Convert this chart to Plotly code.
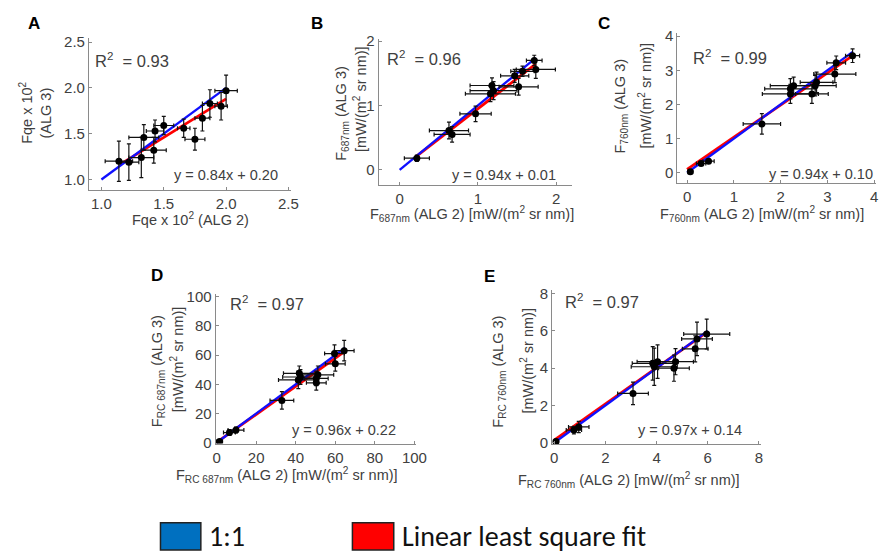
import plotly.graph_objects as go

W, H = 890, 560

# ---------------- data ----------------
A_x = [1.14, 1.22, 1.32, 1.34, 1.42, 1.43, 1.50, 1.66, 1.75, 1.81, 1.87, 1.96, 2.00]
A_y = [1.20, 1.19, 1.24, 1.46, 1.32, 1.53, 1.59, 1.56, 1.44, 1.67, 1.83, 1.80, 1.97]
A_ex = [0.11, 0.08, 0.10, 0.12, 0.10, 0.07, 0.08, 0.05, 0.08, 0.06, 0.06, 0.05, 0.09]
A_ey = [0.22, 0.20, 0.22, 0.14, 0.14, 0.12, 0.10, 0.10, 0.12, 0.14, 0.15, 0.15, 0.17]

B_x = [0.22, 0.63, 0.67, 0.97, 1.16, 1.18, 1.20, 1.47, 1.52, 1.57, 1.72, 1.74]
B_y = [0.18, 0.61, 0.55, 0.87, 1.18, 1.31, 1.23, 1.46, 1.29, 1.53, 1.70, 1.56]
B_ex = [0.16, 0.25, 0.23, 0.20, 0.32, 0.28, 0.30, 0.18, 0.25, 0.15, 0.10, 0.25]
B_ey = [0.05, 0.13, 0.12, 0.12, 0.12, 0.12, 0.14, 0.10, 0.13, 0.08, 0.08, 0.14]

C_x = [0.07, 0.30, 0.46, 1.60, 2.21, 2.28, 2.21, 2.67, 2.74, 2.77, 3.16, 3.19, 3.54]
C_y = [0.03, 0.27, 0.34, 1.43, 2.46, 2.55, 2.31, 2.31, 2.55, 2.65, 2.89, 3.22, 3.43]
C_ex = [0.05, 0.10, 0.12, 0.40, 0.55, 0.50, 0.60, 0.35, 0.45, 0.35, 0.45, 0.20, 0.15]
C_ey = [0.03, 0.05, 0.06, 0.30, 0.30, 0.25, 0.28, 0.28, 0.30, 0.30, 0.25, 0.20, 0.20]

D_x = [1.5, 6.5, 9.8, 33.0, 41.3, 42.4, 41.8, 50.4, 51.2, 50.4, 60.0, 59.6, 64.5]
D_y = [0.9, 7.0, 8.7, 29.0, 43.0, 45.0, 47.5, 44.0, 46.5, 41.0, 54.0, 61.0, 63.0]
D_ex = [1.5, 3.0, 4.0, 6.0, 10.0, 9.0, 8.0, 6.0, 8.0, 5.0, 5.0, 5.0, 5.0]
D_ey = [1.0, 2.0, 2.0, 6.0, 6.0, 5.0, 5.0, 5.0, 6.0, 5.0, 5.0, 6.0, 7.0]

E_x = [0.07, 0.77, 0.96, 3.08, 3.85, 3.91, 4.04, 4.68, 4.74, 5.51, 5.58, 5.96]
E_y = [0.07, 0.68, 0.85, 2.65, 4.26, 4.08, 4.35, 4.00, 4.35, 5.04, 5.57, 5.83]
E_ex = [0.10, 0.30, 0.40, 0.60, 0.80, 0.90, 0.80, 0.60, 0.70, 0.50, 0.60, 0.90]
E_ey = [0.10, 0.20, 0.30, 0.60, 0.90, 1.00, 0.90, 0.70, 0.70, 0.70, 0.90, 0.80]

# 1:1 line extents and fit parameters
one_x = {"A": [1.0, 2.0], "B": [0.0, 1.74], "C": [0.0, 3.55], "D": [0.0, 65.0], "E": [0.0, 6.0]}
fit_x = {"A": [1.15, 2.0], "B": [0.2, 1.74], "C": [0.0, 3.55], "D": [0.0, 65.0], "E": [0.0, 6.0]}
slope = {"A": 0.84, "B": 0.94, "C": 0.94, "D": 0.96, "E": 0.97}
intercept = {"A": 0.20, "B": 0.01, "C": 0.10, "D": 0.22, "E": 0.14}
r2 = {"A": "0.93", "B": "0.96", "C": "0.99", "D": "0.97", "E": "0.97"}

x_ticks = {"A": [1.0, 1.5, 2.0, 2.5], "B": [0, 1, 2], "C": [0, 1, 2, 3, 4],
           "D": [0, 20, 40, 60, 80, 100], "E": [0, 2, 4, 6, 8]}
x_ticktext = {"A": ["1.0", "1.5", "2.0", "2.5"], "B": ["0", "1", "2"], "C": ["0", "1", "2", "3", "4"],
              "D": ["0", "20", "40", "60", "80", "100"], "E": ["0", "2", "4", "6", "8"]}
y_ticks = {"A": [1.0, 1.5, 2.0, 2.5], "B": [0, 1, 2], "C": [0, 1, 2, 3, 4],
           "D": [0, 20, 40, 60, 80, 100], "E": [0, 2, 4, 6, 8]}
y_ticktext = {"A": ["1.0", "1.5", "2.0", "2.5"], "B": ["0", "1", "2"], "C": ["0", "1", "2", "3", "4"],
              "D": ["0", "20", "40", "60", "80", "100"], "E": ["0", "2", "4", "6", "8"]}

xt = {"A": "Fqe x 10<sup>2</sup> (ALG 2)",
      "B": "F<sub>687nm</sub> (ALG 2) [mW/(m<sup>2</sup> sr nm)]",
      "C": "F<sub>760nm</sub> (ALG 2) [mW/(m<sup>2</sup> sr nm)]",
      "D": "F<sub>RC 687nm</sub> (ALG 2) [mW/(m<sup>2</sup> sr nm)]",
      "E": "F<sub>RC 760nm</sub> (ALG 2) [mW/(m<sup>2</sup> sr nm)]"}
yt1 = {"A": "Fqe x 10<sup>2</sup>", "B": "F<sub>687nm</sub> (ALG 3)", "C": "F<sub>760nm</sub> (ALG 3)",
       "D": "F<sub>RC 687nm</sub> (ALG 3)", "E": "F<sub>RC 760nm</sub> (ALG 3)"}
yt2 = {"A": "(ALG 3)", "B": "[mW/(m<sup>2</sup> sr nm)]", "C": "[mW/(m<sup>2</sup> sr nm)]",
       "D": "[mW/(m<sup>2</sup> sr nm)]", "E": "[mW/(m<sup>2</sup> sr nm)]"}

legend_labels = ["1:1", "Linear least square fit"]

data = {"A": (A_x, A_y, A_ex, A_ey), "B": (B_x, B_y, B_ex, B_ey), "C": (C_x, C_y, C_ex, C_ey),
        "D": (D_x, D_y, D_ex, D_ey), "E": (E_x, E_y, E_ex, E_ey)}

# ---------------- layout geometry (pixel calibration) ----------------
geom = {
    "A": ((1.0, 100, 2.5, 290, [0.9, 2.52]), (1.0, 178, 2.5, 37, [0.89, 2.54])),
    "B": ((0, 403, 2, 562, [-0.27, 2.2]), (0, 168, 2, 36, [-0.23, 2.04])),
    "C": ((0, 695, 4, 885, [-0.21, 4.05]), (0, 171, 4, 31, [-0.31, 4.08])),
    "D": ((0, 217, 100, 418, [-0.5, 101]), (0, 448, 100, 298, [-0.5, 102])),
    "E": ((0, 560, 8, 768, [-0.08, 8.1]), (0, 448, 8, 295, [-0.08, 8.2])),
}

def xdom(v0, p0, v1, p1, rng):
    s = (p1 - p0) / (v1 - v0)
    return [(p0 + (rng[0] - v0) * s) / W, (p0 + (rng[1] - v0) * s) / W]

def ydom(v0, p0, v1, p1, rng):
    s = (p1 - p0) / (v1 - v0)
    return [1 - (p0 + (rng[0] - v0) * s) / H, 1 - (p0 + (rng[1] - v0) * s) / H]

FONT = "Liberation Sans, Arial, sans-serif"
TICKC = "#404040"
AXC = "#8a8a8a"

fig = go.Figure()
layout = dict(width=W, height=H, margin=dict(l=0, r=0, t=0, b=0),
              paper_bgcolor="white", plot_bgcolor="white", showlegend=False,
              font=dict(family=FONT, size=14, color=TICKC))

panels = ["A", "B", "C", "D", "E"]
for i, p in enumerate(panels, start=1):
    xs, ys, exs, eys = data[p]
    xa = "x" if i == 1 else f"x{i}"
    ya = "y" if i == 1 else f"y{i}"
    fx = fit_x[p]
    fy = [slope[p] * v + intercept[p] for v in fx]
    fig.add_trace(go.Scatter(x=fx, y=fy, mode="lines", xaxis=xa, yaxis=ya,
                             line=dict(color="#ff0000", width=2.8), hoverinfo="skip"))
    fig.add_trace(go.Scatter(x=one_x[p], y=one_x[p], mode="lines", xaxis=xa, yaxis=ya,
                             line=dict(color="#1010ff", width=2.3), hoverinfo="skip"))
    fig.add_trace(go.Scatter(x=xs, y=ys, mode="markers", xaxis=xa, yaxis=ya,
                             marker=dict(color="black", size=7),
                             error_x=dict(type="data", array=exs, color="#111111", thickness=1.2, width=2),
                             error_y=dict(type="data", array=eys, color="#111111", thickness=1.2, width=2)))
    gx, gy = geom[p]
    xk = "xaxis" if i == 1 else f"xaxis{i}"
    yk = "yaxis" if i == 1 else f"yaxis{i}"
    layout[xk] = dict(domain=xdom(*gx), range=gx[4], anchor=ya, showgrid=False, zeroline=False,
                      showline=True, linecolor=AXC, linewidth=1, ticks="inside", ticklen=3,
                      tickcolor=AXC, tickvals=x_ticks[p], ticktext=x_ticktext[p],
                      tickfont=dict(size=15, color=TICKC, family=FONT))
    layout[yk] = dict(domain=ydom(*gy), range=gy[4], anchor=xa, showgrid=False, zeroline=False,
                      showline=True, linecolor=AXC, linewidth=1, ticks="inside", ticklen=3,
                      tickcolor=AXC, tickvals=y_ticks[p], ticktext=y_ticktext[p],
                      tickfont=dict(size=15, color=TICKC, family=FONT))

fig.update_layout(**layout)

def ann(x, y, text, size=14, xanchor="center", yanchor="middle", angle=0, color=TICKC, bold=False, family=FONT):
    if bold:
        text = f"<b>{text}</b>"
    fig.add_annotation(x=x / W, y=1 - y / H, xref="paper", yref="paper", text=text, showarrow=False,
                       xanchor=xanchor, yanchor=yanchor, textangle=angle,
                       font=dict(size=size, color=color, family=family))

# panel letters
for p, (px, py) in {"A": (32, 18), "B": (319, 18), "C": (611, 18), "D": (156, 276), "E": (494, 277)}.items():
    ann(px, py, p, size=17, color="black", bold=True)

# x titles
for p, (px, py) in {"A": (190, 218), "B": (476, 213), "C": (771, 213), "D": (289, 481), "E": (636, 486)}.items():
    ann(px, py, xt[p], size=14.5)

# y titles (two rotated lines)
ytpos = {"A": ((24, 110), (44, 110)), "B": ((345, 110), (362, 95)), "C": ((628, 103), (652, 92)),
         "D": ((157, 375), (177, 362)), "E": ((504, 375), (532, 364))}
for p, (l1, l2) in ytpos.items():
    ann(l1[0], l1[1], yt1[p], size=14.5, angle=-90)
    ann(l2[0], l2[1], yt2[p], size=14.5, angle=-90)

# R^2 labels
for p, (px, py) in {"A": (91, 55), "B": (388, 53), "C": (699, 52), "D": (229, 305), "E": (569, 303)}.items():
    ann(px, py, f"R<sup>2</sup>  = {r2[p]}", size=16.5, xanchor="left")

# equations
for p, (px, py) in {"A": (281, 173), "B": (564, 173), "C": (886, 172), "D": (401, 435), "E": (753, 435)}.items():
    ann(px, py, f"y = {slope[p]:.2f}x + {intercept[p]:.2f}", size=14.5, xanchor="right")

# legend (drawn boxes + text)
fig.add_shape(type="rect", xref="paper", yref="paper", x0=160 / W, x1=201 / W, y0=1 - 558 / H, y1=1 - 530 / H,
              fillcolor="#0070c0", line=dict(color="#222222", width=1.5))
fig.add_shape(type="rect", xref="paper", yref="paper", x0=355 / W, x1=397 / W, y0=1 - 558 / H, y1=1 - 530 / H,
              fillcolor="#ff0000", line=dict(color="#222222", width=1.5))
LFONT = "Carlito, Lato, sans-serif"
ann(207, 544, legend_labels[0], size=28, xanchor="left", color="#111111", family=LFONT)
ann(403, 544, legend_labels[1], size=28, xanchor="left", color="#111111", family=LFONT)

fig.write_html("out.html")
